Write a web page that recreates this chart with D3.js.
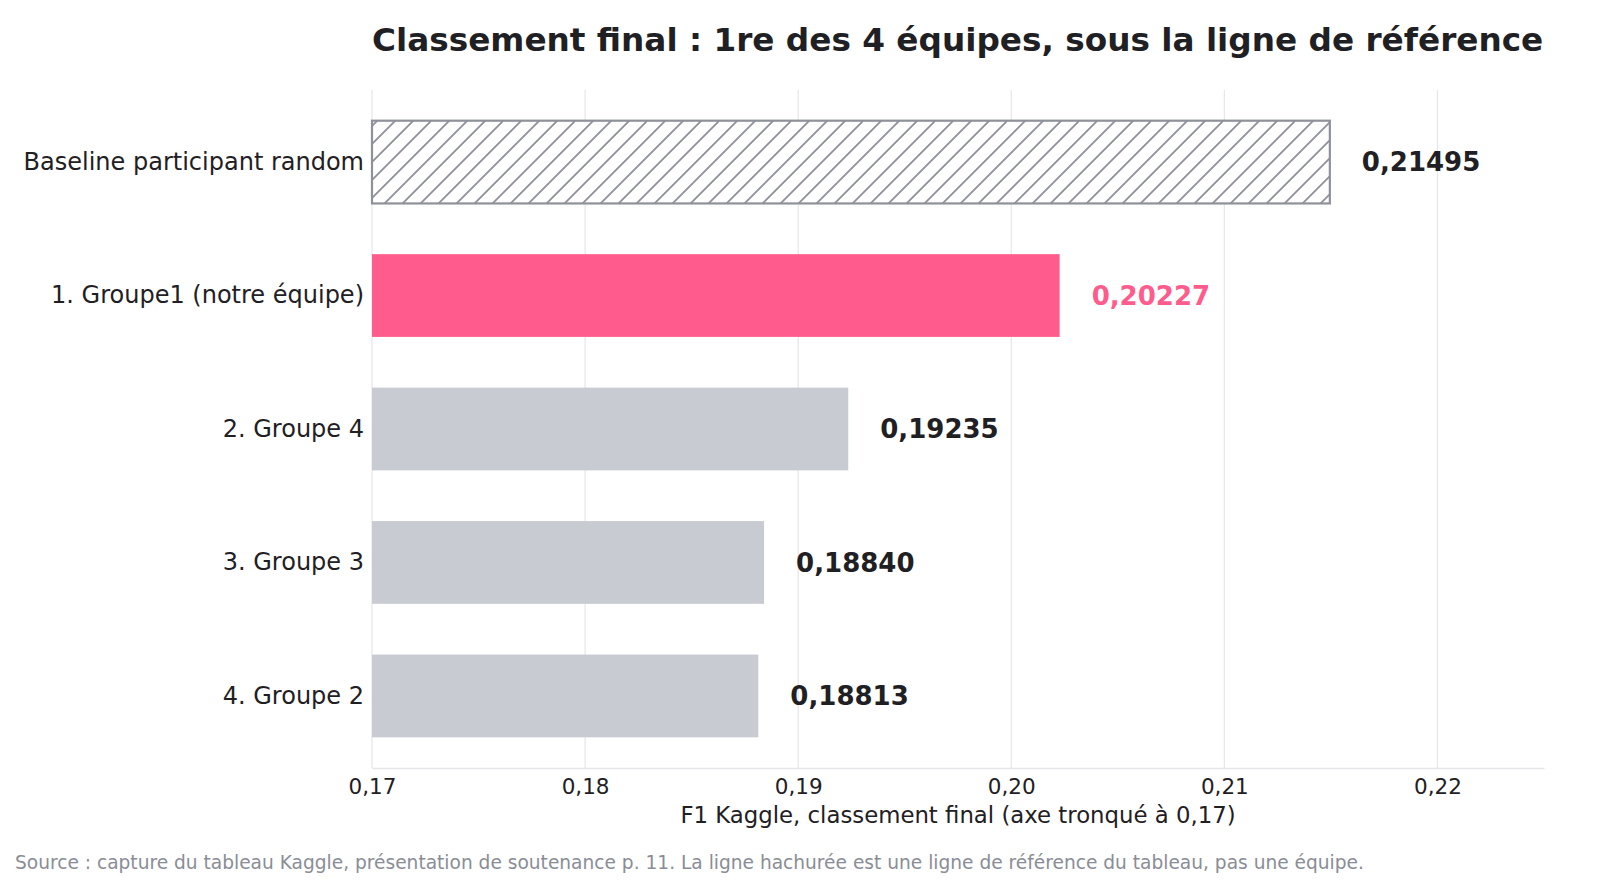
<!DOCTYPE html>
<html>
<head>
<meta charset="utf-8">
<script src="https://cdn.jsdelivr.net/npm/d3@7"></script>
<style>
  html, body { margin: 0; padding: 0; background: #fff; }
  svg { display: block; font-family: "DejaVu Sans", sans-serif; }
</style>
</head>
<body>
<svg id="chart" width="1600" height="896"></svg>
<script>
// classement final Kaggle
const labels = [
  'Baseline participant random',
  '1. Groupe1 (notre équipe)',
  '2. Groupe 4',
  '3. Groupe 3',
  '4. Groupe 2'
];
const scores = [0.21495, 0.20227, 0.19235, 0.18840, 0.18813];
const kinds = ['baseline', 'ours', 'other', 'other', 'other'];
const xTicks = [0.17, 0.18, 0.19, 0.20, 0.21, 0.22];

const titleText = 'Classement final : 1re des 4 équipes, sous la ligne de référence';
const xTitle = 'F1 Kaggle, classement final (axe tronqué à 0,17)';
const sourceText = 'Source : capture du tableau Kaggle, présentation de soutenance p. 11. La ligne hachurée est une ligne de référence du tableau, pas une équipe.';

const DARK = '#1f2024';
const PINK = '#ff5c8d';
const GREY = '#c8cbd2';
const HATCH = '#8e9199';
const GRID = '#e6e6ea';

const margin = { top: 90, right: 56, bottom: 128, left: 372 };
const W = 1600, H = 896;
const innerW = W - margin.left - margin.right;
const innerH = H - margin.top - margin.bottom;

const svg = d3.select('#chart');

const defs = svg.append('defs');
const pat = defs.append('pattern')
  .attr('id', 'hatch')
  .attr('patternUnits', 'userSpaceOnUse')
  .attr('width', 18)
  .attr('height', 18);
pat.append('rect').attr('width', 18).attr('height', 18).attr('fill', '#fff');
pat.append('path')
  .attr('d', 'M-4,4 L4,-4 M0,18 L18,0 M14,22 L22,14')
  .attr('stroke', HATCH)
  .attr('stroke-width', 1.8);

const g = svg.append('g')
  .attr('transform', 'translate(' + margin.left + ',' + margin.top + ')');

const x = d3.scaleLinear().domain([0.17, 0.225]).range([0, innerW]);
const y = d3.scaleBand().domain(labels).range([0, innerH])
  .paddingInner(0.38).paddingOuter(0.23);

const fmt = d3.formatLocale({ decimal: ',', thousands: ' ', grouping: [3], currency: ['', '€'] });
const fmtTick = fmt.format('.2f');
const fmtVal = fmt.format('.5f');

// grille verticale
g.append('g')
  .selectAll('line')
  .data(xTicks)
  .enter()
  .append('line')
  .attr('x1', d => x(d)).attr('x2', d => x(d))
  .attr('y1', 0).attr('y2', innerH)
  .attr('stroke', GRID)
  .attr('stroke-width', 1.2);

// axe x
const xAxis = g.append('g')
  .attr('transform', 'translate(0,' + innerH + ')')
  .call(d3.axisBottom(x).tickValues(xTicks).tickSize(0).tickPadding(8)
    .tickFormat(d => fmtTick(d)));
xAxis.select('.domain').attr('stroke', GRID).attr('stroke-width', 1.5);
xAxis.selectAll('text')
  .attr('font-size', 21.5)
  .attr('fill', DARK)
  .attr('font-family', '"DejaVu Sans", sans-serif')
  .attr('dy', '0.85em');

// axe y (labels uniquement)
const yAxis = g.append('g')
  .call(d3.axisLeft(y).tickSize(0).tickPadding(8));
yAxis.select('.domain').remove();
yAxis.selectAll('text')
  .attr('font-size', 24)
  .attr('fill', DARK)
  .attr('font-family', '"DejaVu Sans", sans-serif');

const rows = labels.map((l, i) => ({ label: l, value: scores[i], kind: kinds[i] }));

g.append('g')
  .selectAll('rect')
  .data(rows)
  .enter()
  .append('rect')
  .attr('x', x(0.17))
  .attr('y', d => y(d.label))
  .attr('height', y.bandwidth())
  .attr('width', d => x(d.value) - x(0.17))
  .attr('fill', d => d.kind === 'baseline' ? 'url(#hatch)' : d.kind === 'ours' ? PINK : GREY)
  .attr('stroke', d => d.kind === 'baseline' ? HATCH : 'none')
  .attr('stroke-width', 2.2);

g.append('g')
  .selectAll('text')
  .data(rows)
  .enter()
  .append('text')
  .attr('x', d => x(d.value) + 32)
  .attr('y', d => y(d.label) + y.bandwidth() / 2)
  .attr('dy', '0.35em')
  .attr('font-size', 26)
  .attr('font-weight', 'bold')
  .attr('fill', d => d.kind === 'ours' ? PINK : DARK)
  .text(d => fmtVal(d.value));

svg.append('text')
  .attr('x', margin.left)
  .attr('y', 51)
  .attr('font-size', 32.7)
  .attr('font-weight', 'bold')
  .attr('fill', DARK)
  .text(titleText);

svg.append('text')
  .attr('x', margin.left + (x(0.225) - x(0.17)) / 2)
  .attr('y', 823)
  .attr('text-anchor', 'middle')
  .attr('font-size', 22.8)
  .attr('fill', DARK)
  .text(xTitle);

svg.append('text')
  .attr('x', 15)
  .attr('y', 869)
  .attr('font-size', 18.6)
  .attr('fill', '#8a8d96')
  .text(sourceText);
</script>
</body>
</html>
